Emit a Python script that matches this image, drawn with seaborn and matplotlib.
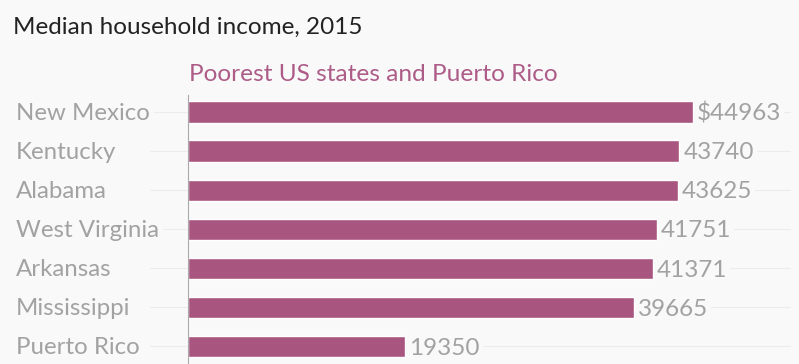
import numpy as np
import pandas as pd
import matplotlib
matplotlib.use("Agg")
import matplotlib.pyplot as plt
import seaborn as sns
from matplotlib.lines import Line2D

states = ["New Mexico", "Kentucky", "Alabama", "West Virginia",
          "Arkansas", "Mississippi", "Puerto Rico"]
income = [44963, 43740, 43625, 41751, 41371, 39665, 19350]
value_labels = ["$44963", "43740", "43625", "41751", "41371", "39665", "19350"]

title = "Median household income, 2015"
subtitle = "Poorest US states and Puerto Rico"

bg = "#f9f9f9"
bar_color = "#a8557f"
label_gray = "#a2a2a2"

sns.set_theme(style="white")
plt.rcParams["font.family"] = ["Lato", "DejaVu Sans"]

df = pd.DataFrame({"state": states, "income": income})

fig = plt.figure(figsize=(7.99, 3.64), dpi=100, facecolor=bg)
ax = fig.add_axes([188 / 799, 0, 1 - 188 / 799, 1 - 95 / 364])
ax.set_facecolor("none")

sns.barplot(data=df, x="income", y="state", orient="h", color=bar_color,
            saturation=1, width=0.55, ax=ax, zorder=3)

ax.set_xlim(0, 54400)
ax.set_ylim(6.45, -0.44)
ax.set_xlabel("")
ax.set_ylabel("")
ax.set_xticks([])
ax.set_yticks([])
for s in ["top", "right", "bottom"]:
    ax.spines[s].set_visible(False)
ax.spines["left"].set_color("#aaaaaa")
ax.spines["left"].set_linewidth(0.8)
ax.spines["left"].set_zorder(4)

# faint gridlines across the full width, drawn in figure space
for i in range(len(states)):
    y_fig = fig.transFigure.inverted().transform(ax.transData.transform((0, i)))[1]
    fig.add_artist(Line2D([150 / 799, 790 / 799], [y_fig, y_fig],
                          color="#ececec", lw=0.8, zorder=0))

# category labels, left aligned
for i, name in enumerate(states):
    y_fig = fig.transFigure.inverted().transform(ax.transData.transform((0, i)))[1]
    fig.text(16 / 799, y_fig - 1.5 / 364, name, ha="left", va="center",
             fontsize=17.3, color=label_gray,
             bbox=dict(facecolor=bg, edgecolor="none", pad=3))

# value labels after bars
for i, (v, lab) in enumerate(zip(income, value_labels)):
    ax.annotate(lab, (v, i), xytext=(3, -1.2), textcoords="offset points",
                ha="left", va="center", fontsize=17.5, color=label_gray,
                zorder=5,
                bbox=dict(facecolor=bg, edgecolor="none", pad=2))

fig.text(13 / 799, 1 - 34 / 364, title, ha="left", va="baseline",
         fontsize=17.5, color="#222222")
fig.text(189 / 799, 1 - 81 / 364, subtitle, ha="left", va="baseline",
         fontsize=17.6, color="#ad5c88")

fig.savefig("out.png", dpi=100, facecolor=bg)
